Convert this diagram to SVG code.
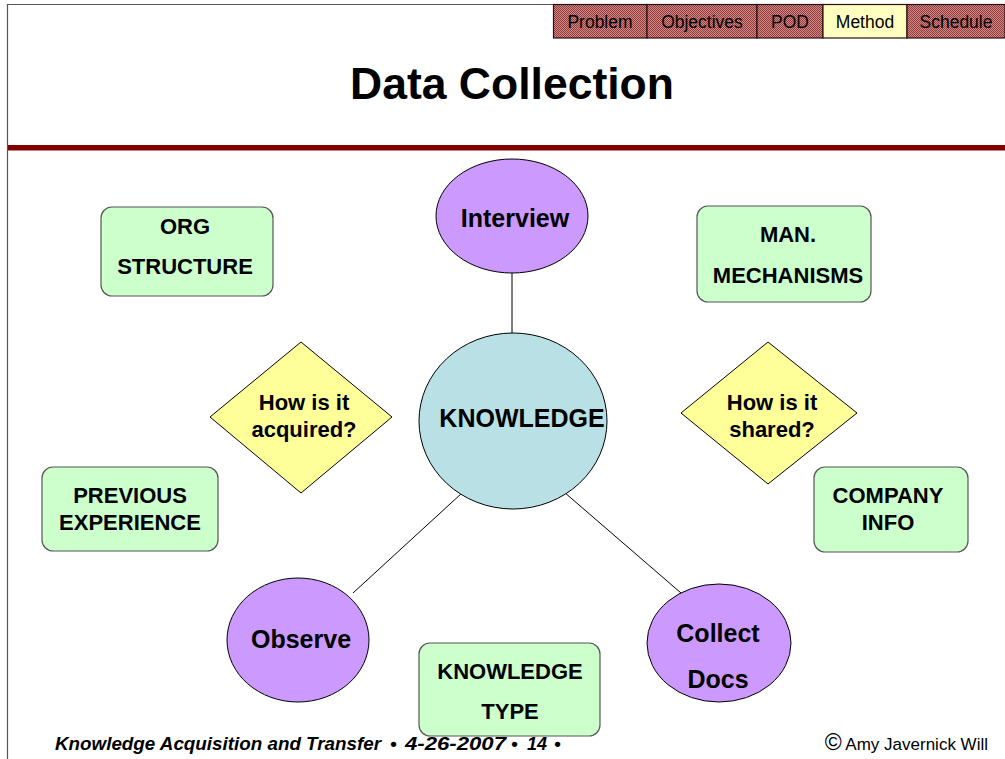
<svg xmlns="http://www.w3.org/2000/svg" width="1005" height="759" viewBox="0 0 1005 759">
  <defs>
    <pattern id="dither" width="2" height="2" patternUnits="userSpaceOnUse">
      <rect width="2" height="2" fill="#c98a8a"/>
      <rect width="1" height="1" fill="#9a3a3a"/>
      <rect x="1" y="1" width="1" height="1" fill="#9a3a3a"/>
    </pattern>
    <style>
      .tab { fill: url(#dither); stroke: #2a1010; stroke-width: 1.2; }
      .tab-on { fill: #ffffc0; stroke: #2a1010; stroke-width: 1.2; }
      .tabtxt { font-family: "Liberation Sans", Arial, sans-serif; font-size: 17.5px; fill: #000; text-anchor: middle; }
      .oval { fill: #cc99ff; stroke: #000; stroke-width: 1; }
      .core { fill: #b9e0e4; stroke: #000; stroke-width: 1; }
      .box { fill: #ccffcc; stroke: #555; stroke-width: 1.2; }
      .dia { fill: #ffff99; stroke: #000; stroke-width: 1; }
      .lbl { font-family: "Liberation Sans", Arial, sans-serif; font-weight: bold; fill: #000; text-anchor: middle; }
      .big { font-size: 25px; }
      .mid { font-size: 22px; }
      .link { stroke: #000; stroke-width: 1; fill: none; }
      .foot { font-family: "Liberation Sans", Arial, sans-serif; font-size: 19px; font-weight: bold; font-style: italic; }
    </style>
  </defs>

  <rect width="1005" height="759" fill="#fff"/>

  <!-- slide frame -->
  <line x1="7.5" y1="4.5" x2="1005" y2="4.5" stroke="#555" stroke-width="1.2"/>
  <line x1="7.5" y1="4" x2="7.5" y2="759" stroke="#555" stroke-width="1.2"/>

  <!-- navigation tabs -->
  <g id="nav">
    <rect class="tab" x="553.5" y="4.5" width="93.5" height="33.5"/>
    <rect class="tab" x="647" y="4.5" width="110" height="33.5"/>
    <rect class="tab" x="757" y="4.5" width="66" height="33.5"/>
    <rect class="tab-on" x="823" y="4.5" width="84" height="33.5"/>
    <rect class="tab" x="907" y="4.5" width="98" height="33.5"/>
    <text class="tabtxt" x="600" y="28">Problem</text>
    <text class="tabtxt" x="702" y="28">Objectives</text>
    <text class="tabtxt" x="790" y="28">POD</text>
    <text class="tabtxt" x="865" y="28">Method</text>
    <text class="tabtxt" x="956" y="28">Schedule</text>
  </g>

  <!-- title -->
  <text x="512" y="99" font-family="Liberation Sans, Arial, sans-serif" font-size="44.5" font-weight="bold" text-anchor="middle">Data Collection</text>
  <rect x="8" y="145" width="997" height="5.5" fill="#800000"/>

  <!-- connectors -->
  <g id="connectors">
    <line class="link" x1="512" y1="273" x2="512" y2="333"/>
    <line class="link" x1="462" y1="493" x2="353" y2="593"/>
    <line class="link" x1="564" y1="492" x2="681" y2="593"/>
  </g>

  <g id="interview">
    <ellipse class="oval" cx="512" cy="216" rx="76" ry="57"/>
    <text class="lbl big" x="515" y="227">Interview</text>
  </g>

  <g id="knowledge">
    <ellipse class="core" cx="513" cy="421" rx="94" ry="88"/>
    <text class="lbl big" x="522" y="427">KNOWLEDGE</text>
  </g>

  <g id="observe">
    <ellipse class="oval" cx="298" cy="640" rx="71" ry="62"/>
    <text class="lbl big" x="301" y="648">Observe</text>
  </g>

  <g id="collect-docs">
    <ellipse class="oval" cx="719" cy="643" rx="72" ry="59"/>
    <text class="lbl big" x="718" y="642">Collect</text>
    <text class="lbl big" x="718" y="688">Docs</text>
  </g>

  <g id="acquired">
    <polygon class="dia" points="210,417 301,342 392,417 301,493"/>
    <text class="lbl mid" x="304" y="410">How is it</text>
    <text class="lbl mid" x="304" y="437">acquired?</text>
  </g>

  <g id="shared">
    <polygon class="dia" points="681,413 768,342 857,413 768,484"/>
    <text class="lbl mid" x="772" y="410">How is it</text>
    <text class="lbl mid" x="772" y="437">shared?</text>
  </g>

  <g id="org-structure">
    <rect class="box" x="101" y="207" width="172" height="89" rx="11"/>
    <text class="lbl mid" x="185" y="234">ORG</text>
    <text class="lbl mid" x="185" y="274">STRUCTURE</text>
  </g>

  <g id="previous-experience">
    <rect class="box" x="42" y="467" width="176" height="84" rx="11"/>
    <text class="lbl mid" x="130" y="503">PREVIOUS</text>
    <text class="lbl mid" x="130" y="530">EXPERIENCE</text>
  </g>

  <g id="man-mechanisms">
    <rect class="box" x="697" y="206" width="174" height="96" rx="11"/>
    <text class="lbl mid" x="788" y="242">MAN.</text>
    <text class="lbl mid" x="788" y="283">MECHANISMS</text>
  </g>

  <g id="company-info">
    <rect class="box" x="814" y="467" width="154" height="85" rx="11"/>
    <text class="lbl mid" x="888" y="503">COMPANY</text>
    <text class="lbl mid" x="888" y="530">INFO</text>
  </g>

  <g id="knowledge-type">
    <rect class="box" x="419" y="643" width="181" height="93" rx="11"/>
    <text class="lbl mid" x="510" y="679">KNOWLEDGE</text>
    <text class="lbl mid" x="510" y="719">TYPE</text>
  </g>

  <!-- footer -->
  <text class="foot" y="750"><tspan x="55" textLength="326" lengthAdjust="spacingAndGlyphs">Knowledge Acquisition and Transfer</tspan><tspan x="390">•</tspan><tspan x="405" textLength="101" lengthAdjust="spacingAndGlyphs">4-26-2007</tspan><tspan x="511">•</tspan><tspan x="527" textLength="20" lengthAdjust="spacingAndGlyphs">14</tspan><tspan x="554">•</tspan></text>
  <text x="988" y="750" font-family="Liberation Sans, Arial, sans-serif" font-size="17" text-anchor="end"><tspan font-size="23">©</tspan> Amy Javernick Will</text>
</svg>
